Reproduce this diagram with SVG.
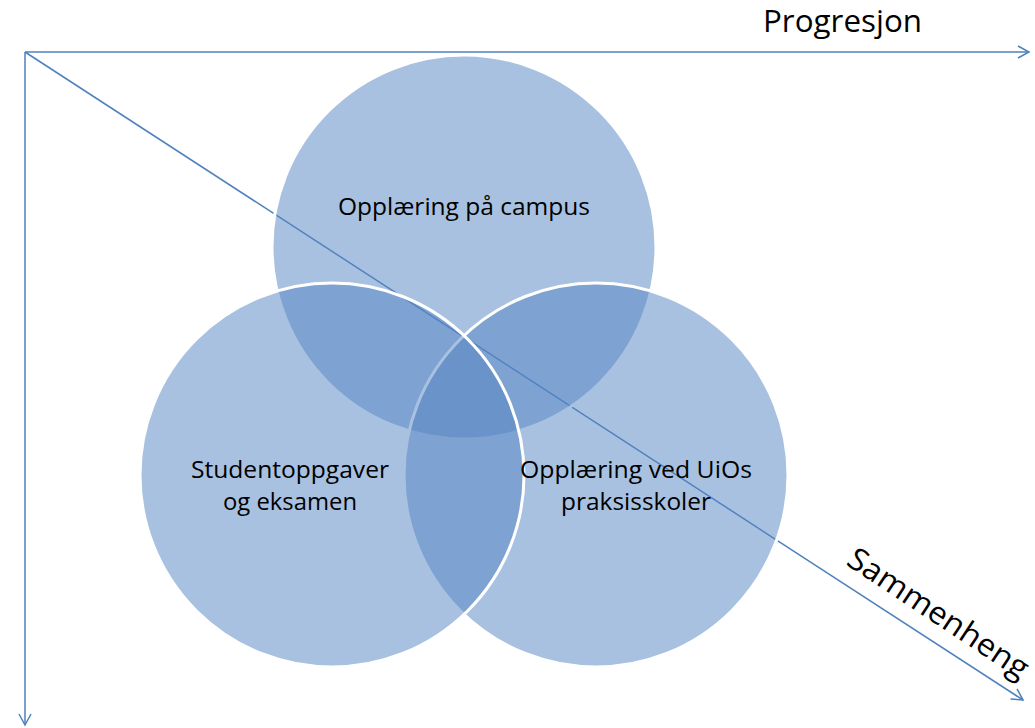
<svg xmlns="http://www.w3.org/2000/svg" width="1035" height="728" viewBox="0 0 1035 728">
<style>
.ax{stroke:#4f81bd;stroke-width:1.5;fill:none}
.c{fill:#5383c1;fill-opacity:0.5;stroke:#ffffff;stroke-width:3}
.t{font-family:"Open Sans","Liberation Sans",sans-serif;font-size:24px;fill:#000}
.big{font-family:"Open Sans","Liberation Sans",sans-serif;font-size:31px;fill:#000}
</style>
<defs>
<marker id="arr" markerWidth="14" markerHeight="14" refX="12" refY="7" orient="auto" markerUnits="userSpaceOnUse">
<path d="M1,1 L12,7 L1,13" fill="none" stroke="#4f81bd" stroke-width="1.5"/>
</marker>
</defs>
<rect width="1035" height="728" fill="#fff"/>
<g id="connectors">
<line class="ax" x1="25" y1="52" x2="1029" y2="52" marker-end="url(#arr)"/>
<line class="ax" x1="25" y1="52" x2="25" y2="725" marker-end="url(#arr)"/>
<line class="ax" x1="25" y1="52" x2="1023" y2="700" marker-end="url(#arr)"/>
</g>
<g id="campus"><circle class="c" cx="464" cy="247" r="192"/></g>
<g id="praksis"><circle class="c" cx="596" cy="475" r="192"/></g>
<g id="student"><circle class="c" cx="332" cy="475" r="192"/></g>
<g id="labels">
<text class="t" x="464" y="215" text-anchor="middle" textLength="252" lengthAdjust="spacingAndGlyphs">Opplæring på campus</text>
<text class="t" x="290" y="478" text-anchor="middle" textLength="198" lengthAdjust="spacingAndGlyphs">Studentoppgaver</text>
<text class="t" x="290" y="510" text-anchor="middle" textLength="134" lengthAdjust="spacingAndGlyphs">og eksamen</text>
<text class="t" x="636" y="478" text-anchor="middle" textLength="232" lengthAdjust="spacingAndGlyphs">Opplæring ved UiOs</text>
<text class="t" x="636" y="510" text-anchor="middle" textLength="150" lengthAdjust="spacingAndGlyphs">praksisskoler</text>
<text class="big" x="763" y="32" textLength="159" lengthAdjust="spacingAndGlyphs">Progresjon</text>
<text class="big" x="845" y="564" transform="rotate(33.5 845 564)" textLength="210" lengthAdjust="spacingAndGlyphs">Sammenheng</text>
</g>
</svg>
